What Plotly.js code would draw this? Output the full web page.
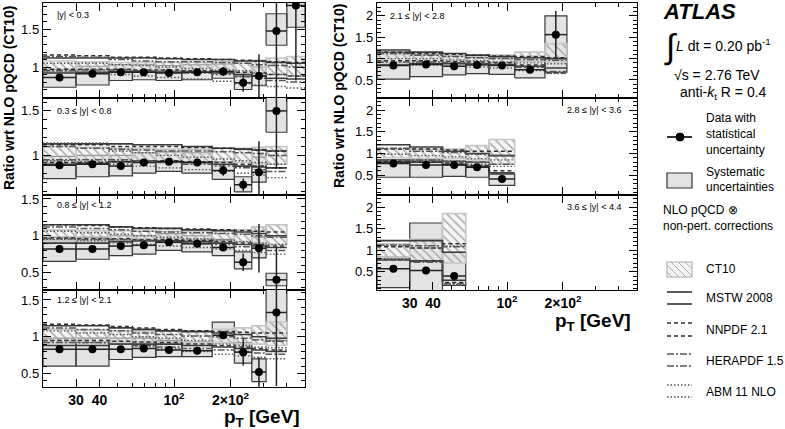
<!DOCTYPE html>
<html><head><meta charset="utf-8">
<script src="https://cdn.plot.ly/plotly-3.0.1.min.js"></script>
<style>html,body{margin:0;padding:0;background:#fff}#chart{width:785px;height:429px}</style>
</head><body><div id="chart"></div>
<script>
// ---- binning and labels ----
const PT_EDGES = [20,30,45,60,80,110,160,210,260,310,400,500];
const PT_CENTERS = [24.5,36.7,52,69,94,133,183,234,284,352,447];
const RAPIDITY_LABELS = ['|y| < 0.3','0.3 ≤ |y| < 0.8','0.8 ≤ |y| < 1.2','1.2 ≤ |y| < 2.1','2.1 ≤ |y| < 2.8','2.8 ≤ |y| < 3.6','3.6 ≤ |y| < 4.4'];
const X_TICK_VALUES = [30,40,100,200];
const X_TICK_LABELS = ['30','40','10<sup>2</sup>','2×10<sup>2</sup>'];
const X_MINOR_VALUES = [50,60,70,80,90,300,400];

// ---- data (ratio to NLO pQCD CT10), one row per rapidity bin ----
const DATA_RATIO = [
 [0.86,0.91,0.93,0.93,0.92,0.93,0.94,0.79,0.88,1.48,1.82],
 [0.89,0.90,0.88,0.92,0.93,0.92,0.83,0.67,0.81,1.50],
 [0.82,0.82,0.86,0.87,0.91,0.89,0.84,0.64,0.83,0.40],
 [0.83,0.83,0.83,0.84,0.82,0.81,1.02,0.79,0.52,1.33],
 [0.84,0.86,0.82,0.85,0.84,0.74,1.56],
 [0.77,0.73,0.73,0.68,0.41],
 [0.57,0.53,0.40]
];
const STAT_ERR = [
 [0.01,0.01,0.01,0.01,0.01,0.015,0.06,0.12,0.29,0.9,1.0],
 [0.01,0.01,0.01,0.01,0.01,0.015,0.06,0.07,0.35,0.65],
 [0.01,0.01,0.01,0.01,0.01,0.015,0.04,0.12,0.33,0.45],
 [0.01,0.01,0.01,0.01,0.01,0.015,0.05,0.18,0.2,1.0],
 [0.01,0.01,0.01,0.01,0.015,0.03,0.55],
 [0.01,0.01,0.015,0.02,0.04],
 [0.015,0.02,0.04]
];
const SYST_LO = [
 [0.73,0.76,0.82,0.83,0.82,0.83,0.85,0.70,0.75,1.29,1.53],
 [0.74,0.76,0.77,0.80,0.82,0.80,0.73,0.59,0.70,1.26],
 [0.65,0.68,0.73,0.75,0.80,0.78,0.73,0.55,0.70,0.32],
 [0.60,0.60,0.69,0.72,0.73,0.73,0.92,0.64,0.39,0.95],
 [0.52,0.58,0.62,0.65,0.63,0.55,0.68],
 [0.45,0.45,0.47,0.45,0.26],
 [0.13,0.03,0.18]
];
const SYST_HI = [
 [0.97,1.01,1.03,1.03,1.02,1.03,1.04,0.88,1.00,1.71,2.10],
 [0.99,1.00,1.00,1.03,1.04,1.03,0.93,0.76,0.98,1.75],
 [0.98,0.98,1.00,1.00,1.03,1.00,0.95,0.78,0.98,0.49],
 [0.98,0.98,0.98,0.98,0.95,0.93,1.20,0.92,0.70,1.75],
 [1.15,1.10,1.05,1.03,1.02,0.95,2.00],
 [0.85,0.85,0.82,0.80,0.52],
 [0.84,1.63,0.95]
];

// ---- theory bands (NLO pQCD x non-pert. corrections) relative to CT10 ----
const CT10_LO = [
 [0.94,0.94,0.95,0.95,0.95,0.94,0.93,0.92,0.91,0.90,0.88],
 [0.90,0.91,0.92,0.92,0.93,0.93,0.92,0.92,0.91,0.90],
 [0.93,0.93,0.94,0.94,0.95,0.94,0.93,0.92,0.90,0.88],
 [0.92,0.92,0.93,0.93,0.93,0.92,0.92,0.90,0.90,0.88],
 [0.90,0.91,0.92,0.92,0.91,0.95,0.92],
 [0.90,0.88,0.88,0.85,0.75],
 [0.82,0.75,0.70]
];
const CT10_HI = [
 [1.08,1.07,1.06,1.06,1.06,1.06,1.07,1.08,1.09,1.12,1.14],
 [1.10,1.09,1.08,1.08,1.07,1.07,1.08,1.08,1.09,1.10],
 [1.08,1.07,1.07,1.06,1.06,1.06,1.07,1.08,1.12,1.15],
 [1.10,1.09,1.08,1.08,1.08,1.08,1.10,1.12,1.15,1.20],
 [1.10,1.08,1.07,1.07,1.08,1.15,1.35],
 [1.10,1.10,1.10,1.18,1.32],
 [1.15,1.25,1.85]
];
const MSTW_LO = [
 [0.92,0.93,0.94,0.94,0.93,0.93,0.92,0.90,0.88,0.85,0.84],
 [0.90,0.91,0.93,0.94,0.93,0.92,0.90,0.88,0.87,0.86],
 [0.90,0.90,0.92,0.93,0.93,0.92,0.90,0.88,0.86,0.84],
 [0.88,0.88,0.90,0.90,0.90,0.88,0.86,0.84,0.82,0.80],
 [0.85,0.88,0.88,0.88,0.86,0.82,0.78],
 [0.80,0.80,0.75,0.70,0.55],
 [0.78,0.75,0.30]
];
const MSTW_HI = [
 [1.12,1.12,1.12,1.12,1.11,1.10,1.10,1.08,1.08,1.06,1.05],
 [1.13,1.13,1.13,1.12,1.12,1.10,1.08,1.07,1.06,1.05],
 [1.15,1.15,1.12,1.10,1.10,1.08,1.07,1.05,1.03,1.00],
 [1.15,1.15,1.12,1.10,1.08,1.07,1.05,1.03,1.00,0.98],
 [1.20,1.15,1.12,1.08,1.05,1.02,1.00],
 [1.20,1.15,1.05,1.00,0.95],
 [1.22,1.22,0.95]
];
const NNPDF_LO = [
 [0.97,0.97,0.97,0.96,0.96,0.95,0.94,0.93,0.92,0.90,0.88],
 [0.92,0.92,0.93,0.94,0.94,0.93,0.92,0.90,0.88,0.86],
 [0.97,0.96,0.96,0.95,0.95,0.94,0.92,0.90,0.88,0.86],
 [0.95,0.95,0.94,0.93,0.92,0.90,0.88,0.86,0.84,0.82],
 [0.95,0.95,0.93,0.92,0.90,0.85,0.66],
 [0.82,0.80,0.78,0.72,0.60],
 [0.78,0.75,0.25]
];
const NNPDF_HI = [
 [1.16,1.15,1.13,1.13,1.12,1.11,1.10,1.09,1.08,1.07,1.06],
 [1.12,1.12,1.10,1.10,1.10,1.09,1.08,1.07,1.06,1.05],
 [1.15,1.14,1.12,1.11,1.10,1.09,1.08,1.07,1.06,1.05],
 [1.17,1.16,1.14,1.12,1.10,1.08,1.07,1.06,1.05,1.05],
 [1.15,1.12,1.10,1.08,1.06,1.05,1.02],
 [1.10,1.10,1.08,1.05,1.05],
 [1.08,1.05,1.15]
];
const HERAPDF_LO = [
 [0.95,0.96,0.96,0.95,0.94,0.92,0.90,0.87,0.85,0.82,0.80],
 [0.95,0.95,0.95,0.94,0.92,0.90,0.88,0.86,0.84,0.82],
 [0.96,0.95,0.95,0.94,0.92,0.90,0.88,0.85,0.83,0.80],
 [0.92,0.92,0.90,0.88,0.86,0.84,0.82,0.80,0.78,0.76],
 [0.92,0.92,0.90,0.88,0.85,0.80,0.70],
 [0.85,0.85,0.82,0.80,0.75],
 [0.78,0.72,0.22]
];
const HERAPDF_HI = [
 [1.14,1.13,1.10,1.08,1.07,1.07,1.06,1.05,1.03,1.02,1.00],
 [1.10,1.08,1.07,1.06,1.05,1.05,1.04,1.03,1.02,1.00],
 [1.12,1.10,1.08,1.06,1.05,1.04,1.03,1.02,1.00,0.98],
 [1.12,1.10,1.08,1.05,1.03,1.01,1.00,0.98,0.96,0.94],
 [1.12,1.08,1.05,1.02,1.00,0.98,0.96],
 [1.12,1.05,1.02,0.98,0.95],
 [1.12,1.10,1.08]
];
const ABM_LO = [
 [0.93,0.92,0.90,0.88,0.86,0.84,0.81,0.78,0.76,0.74,0.72],
 [0.94,0.93,0.90,0.88,0.86,0.84,0.82,0.80,0.78,0.75],
 [0.95,0.93,0.90,0.88,0.86,0.84,0.82,0.80,0.77,0.75],
 [0.95,0.92,0.90,0.87,0.84,0.80,0.76,0.74,0.72,0.70],
 [0.85,0.85,0.82,0.80,0.78,0.72,0.65],
 [0.85,0.82,0.80,0.75,0.70],
 [0.80,0.75,0.20]
];
const ABM_HI = [
 [1.05,1.05,1.03,1.02,1.00,0.98,0.96,0.95,0.92,0.90,0.88],
 [1.14,1.14,1.05,1.03,1.00,0.98,0.96,0.94,0.92,0.90],
 [1.06,1.04,1.02,1.00,0.98,0.96,0.94,0.92,0.90,0.88],
 [1.08,1.05,1.03,1.00,0.98,0.95,0.90,0.88,0.86,0.85],
 [1.00,1.00,0.97,0.95,0.92,0.90,0.88],
 [0.98,0.95,0.92,0.88,0.85],
 [1.10,1.05,1.10]
];

// ---- layout geometry (pixels) ----
const W = 785, H = 429;
const COLS = [[43,305],[377,637]];
const PANELS = [
 {col:0, top:3,   bot:98,  yr:[0.587,1.853]},
 {col:0, top:98,  bot:195, yr:[0.555,1.645]},
 {col:0, top:195, bot:290, yr:[0.262,1.554]},
 {col:0, top:290, bot:387, yr:[0.316,1.636]},
 {col:1, top:3,   bot:98,  yr:[0.078,2.30]},
 {col:1, top:98,  bot:195, yr:[0.04,2.28]},
 {col:1, top:195, bot:290, yr:[0.075,2.28]}
];
const LABEL_POS = [[55,15,'left'],[55,111,'left'],[55,205,'left'],[55,300,'left'],[388,16,'left'],[623,110,'right'],[623,207,'right']];
const px = x => x / W, py = y => 1 - y / H;
const FONT = 'Liberation Sans, Arial, Helvetica, sans-serif';

function boxPath(lo, hi){
  const x=[], y=[];
  for (let b=0;b<lo.length;b++){
    const e0=PT_EDGES[b], e1=PT_EDGES[b+1];
    x.push(e0,e1,e1,e0,e0,null); y.push(lo[b],lo[b],hi[b],hi[b],lo[b],null);
  }
  return {x,y};
}
function stepPath(hi, lo){
  const x=[], y=[];
  [hi, lo].forEach((v,k)=>{
    for (let b=0;b<=v.length;b++){ x.push(PT_EDGES[b]); y.push(v[Math.min(b,v.length-1)]); }
    if (k===0){ x.push(null); y.push(null); }
  });
  return {x,y};
}

const traces = [];
const layout = {
  width: W, height: H, margin:{l:0,r:0,t:0,b:0},
  paper_bgcolor:'#fff', plot_bgcolor:'#fff', showlegend:false,
  font:{family:FONT, color:'#000'}, annotations:[], shapes:[]
};

PANELS.forEach((P,p)=>{
  const s = p===0 ? '' : String(p+1);
  const xa='x'+s, ya='y'+s;
  const n = DATA_RATIO[p].length;
  const sys = boxPath(SYST_LO[p], SYST_HI[p]);
  traces.push({type:'scatter', mode:'lines', x:sys.x, y:sys.y, xaxis:xa, yaxis:ya, fill:'toself',
    fillcolor:'#e3e3e3', line:{color:'#3a3a3a', width:1.2}, hoverinfo:'skip'});
  const ct = boxPath(CT10_LO[p], CT10_HI[p]);
  traces.push({type:'scatter', mode:'lines', x:ct.x, y:ct.y, xaxis:xa, yaxis:ya, fill:'toself',
    fillcolor:'rgba(236,236,236,0.55)', fillpattern:{shape:'\\', fgcolor:'#a8a8a8', bgcolor:'rgba(236,236,236,0.5)', size:6, solidity:0.25},
    line:{color:'#c6c6c6', width:1.6}, hoverinfo:'skip'});
  const styles = [
    [MSTW_HI, MSTW_LO, {color:'#3a3a3a', width:1.6, dash:'solid'}],
    [NNPDF_HI, NNPDF_LO, {color:'#2e2e2e', width:1.5, dash:'4px,3px'}],
    [HERAPDF_HI, HERAPDF_LO, {color:'#555', width:1.5, dash:'7px,2px,2px,2px'}],
    [ABM_HI, ABM_LO, {color:'#555', width:1.4, dash:'1.5px,2px'}]
  ];
  styles.forEach(([hi,lo,ln])=>{
    const st = stepPath(hi[p], lo[p]);
    traces.push({type:'scatter', mode:'lines', x:st.x, y:st.y, xaxis:xa, yaxis:ya, line:Object.assign({shape:'hv'}, ln), hoverinfo:'skip'});
  });
  const cx = PT_CENTERS.slice(0,n);
  traces.push({type:'scatter', mode:'markers', x:cx, y:DATA_RATIO[p], xaxis:xa, yaxis:ya,
    marker:{color:'#000', size:8},
    error_y:{type:'data', array:STAT_ERR[p], color:'#222', thickness:1.5, width:0},
    error_x:{type:'data', symmetric:false, array:cx.map((c,b)=>PT_EDGES[b+1]-c), arrayminus:cx.map((c,b)=>c-PT_EDGES[b]), color:'#222', thickness:1.5, width:0},
    cliponaxis:true});

  const c = COLS[P.col];
  const bottom = (p===3 || p===6);
  layout['xaxis'+s] = {domain:[px(c[0]), px(c[1])], anchor:ya, type:'log',
    range:[Math.log10(20), Math.log10(500)], showline:true, linecolor:'#000', linewidth:1.2, mirror:'allticks',
    ticks:'inside', ticklen:8, tickwidth:1, tickcolor:'#000', tickmode:'array', tickvals:X_TICK_VALUES, ticktext:X_TICK_LABELS,
    showticklabels:bottom, tickfont:{family:FONT, size:14, weight:'bold', color:'#000'},
    minor:{tickmode:'array', tickvals:X_MINOR_VALUES, ticks:'inside', ticklen:4, tickcolor:'#000', tickwidth:1},
    showgrid:false, zeroline:false, fixedrange:true};
  layout['yaxis'+s] = {domain:[py(P.bot), py(P.top)], anchor:xa, range:P.yr,
    showline:true, linecolor:'#000', linewidth:1.2, mirror:'allticks',
    ticks:'inside', ticklen:8, tickwidth:1, tickcolor:'#000', tick0:0, dtick:0.5,
    tickfont:{family:FONT, size:13, color:'#000'},
    minor:{tick0:0, dtick:0.1, ticks:'inside', ticklen:4, tickcolor:'#000', tickwidth:1},
    showgrid:false, zeroline:false, fixedrange:true};

  const L = LABEL_POS[p];
  layout.annotations.push({xref:'paper', yref:'paper', x:px(L[0]), y:py(L[1]), xanchor:L[2], yanchor:'middle',
    text:RAPIDITY_LABELS[p], showarrow:false, font:{family:FONT, size:9, color:'#000'}});
});

// axis titles
const ytitle = 'Ratio wrt NLO pQCD (CT10)';
[[9,98],[339,96]].forEach(([x,y])=>layout.annotations.push({xref:'paper', yref:'paper', x:px(x), y:py(y), xanchor:'center', yanchor:'middle',
  textangle:-90, text:'<b>'+ytitle+'</b>', showarrow:false, font:{family:FONT, size:14}}));
[[262,418],[593,322]].forEach(([x,y])=>layout.annotations.push({xref:'paper', yref:'paper', x:px(x), y:py(y), xanchor:'center', yanchor:'middle',
  text:'<b>p<sub>T</sub> [GeV]</b>', showarrow:false, font:{family:FONT, size:19}}));

// right-hand information and legend
const ann = (x,y,text,size,anchor) => layout.annotations.push({xref:'paper', yref:'paper', x:px(x), y:py(y), xanchor:anchor||'left', yanchor:'middle', text, showarrow:false, font:{family:FONT, size:size||12, color:'#000'}});
ann(661,11,'<b><i>ATLAS</i></b>',22);
ann(662,47,'∫',34);
ann(674,45,'<i>L</i> dt = 0.20 pb<sup>-1</sup>',14);
ann(672,75,'√s = 2.76 TeV',14);
ann(678,93,'anti-<i>k</i><sub>t</sub> R = 0.4',14);
ann(704,118,'Data with'); ann(704,134,'statistical'); ann(704,150,'uncertainty');
ann(704,172,'Systematic'); ann(704,187,'uncertainties');
ann(661,210,'NLO pQCD ⊗'); ann(661,226,'non-pert. corrections');
ann(704,269,'CT10'); ann(704,298,'MSTW 2008'); ann(704,330,'NNPDF 2.1'); ann(704,361,'HERAPDF 1.5'); ann(704,392,'ABM 11 NLO');

const shp = o => layout.shapes.push(Object.assign({xref:'paper', yref:'paper'}, o));
const hline = (y, dash, color) => shp({type:'line', x0:px(667), x1:px(692), y0:py(y), y1:py(y), line:{color:color||'#333', width:1.6, dash:dash||'solid'}});
hline(137,'solid','#000');
shp({type:'circle', x0:px(676), x1:px(684), y0:py(141), y1:py(133), fillcolor:'#000', line:{color:'#000', width:1}});
shp({type:'rect', x0:px(667), x1:px(692), y0:py(188), y1:py(173), fillcolor:'#e3e3e3', line:{color:'#333', width:1.2}});
shp({type:'rect', x0:px(667), x1:px(692), y0:py(277), y1:py(262), fillcolor:'rgba(236,236,236,0.6)', line:{color:'#c6c6c6', width:1.6}});
for (let c=-10;c<=20;c+=7){
  let xs=667+c, ys=262, xe=682+c, ye=277;
  if (xs<667){ ys+=667-xs; xs=667; }
  if (xe>692){ ye-=xe-692; xe=692; }
  if (xe>xs) shp({type:'line', x0:px(xs), x1:px(xe), y0:py(ys), y1:py(ye), line:{color:'#b0b0b0', width:1}});
}
hline(292); hline(304);
hline(323,'4px,3px','#2e2e2e'); hline(336,'4px,3px','#2e2e2e');
hline(354,'7px,2px,2px,2px','#555'); hline(366,'7px,2px,2px,2px','#555');
hline(385,'1.5px,2px','#555'); hline(397,'1.5px,2px','#555');

Plotly.newPlot('chart', traces, layout, {staticPlot:true, displayModeBar:false});
</script>
</body></html>
